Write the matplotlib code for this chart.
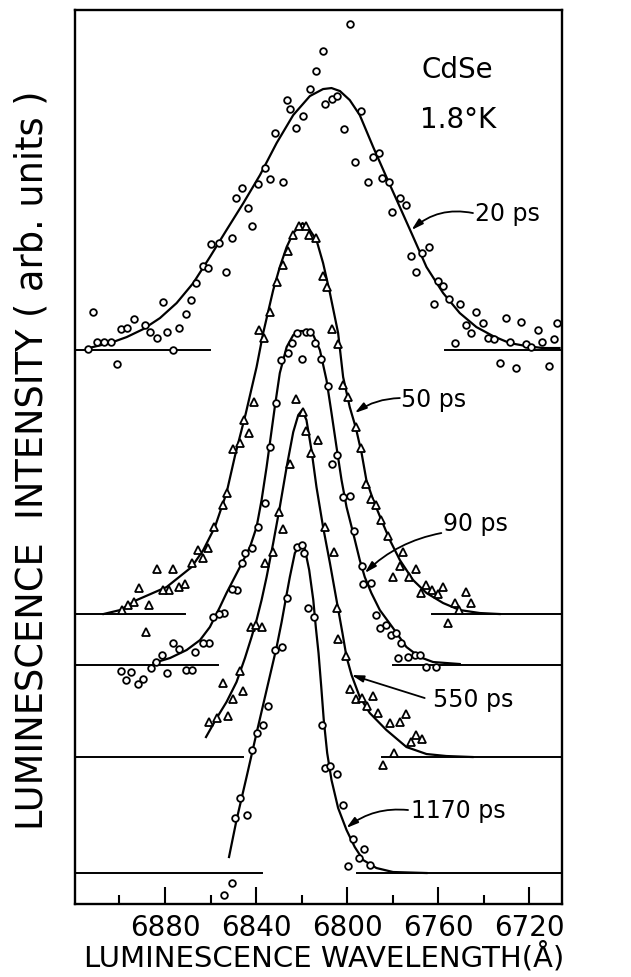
import matplotlib
matplotlib.use('Agg')
import matplotlib.pyplot as plt

# spectra: wavelength (A) and intensity (arb. units, offset stacked)
wl20 = [6913.6, 6911.4, 6909.7, 6906.8, 6903.8, 6901.2, 6899.4, 6896.5, 6893.6, 6888.8, 6886.6, 6883.4,
        6881.0, 6879.0, 6876.3, 6873.9, 6870.8, 6868.7, 6866.5, 6863.5, 6861.0, 6859.8, 6856.2, 6853.2,
        6850.5, 6848.9, 6846.4, 6843.7, 6841.6, 6839.1, 6836.1, 6833.7, 6831.8, 6828.4, 6826.6, 6825.2,
        6822.5, 6819.6, 6816.4, 6813.8, 6810.6, 6809.8, 6806.9, 6804.3, 6801.5, 6798.9, 6796.7, 6794.0,
        6791.1, 6788.9, 6786.1, 6784.7, 6781.6, 6780.3, 6776.9, 6774.3, 6772.1, 6769.6, 6767.0, 6764.2,
        6762.0, 6760.1, 6757.9, 6755.3, 6752.8, 6750.6, 6748.0, 6745.5, 6743.3, 6740.4, 6738.2, 6735.6,
        6732.8, 6730.4, 6728.7, 6725.8, 6723.6, 6721.4, 6719.2, 6716.3, 6714.5, 6711.6, 6709.2, 6707.8]
y20 = [555, 592, 562, 562, 562, 540, 575, 576, 585, 579, 572, 566, 602, 572, 554, 576, 590, 604, 621, 638,
       636, 660, 661, 632, 666, 706, 716, 696, 678, 720, 736, 725, 771, 722, 804, 795, 776, 788, 815, 833,
       853, 800, 805, 808, 775, 880, 742, 793, 722, 747, 751, 726, 722, 692, 706, 699, 648, 632, 651, 657,
       600, 623, 618, 605, 561, 600, 579, 571, 592, 581, 566, 565, 541, 586, 562, 536, 582, 560, 557, 574,
       562, 538, 565, 581]

wl50 = [6838.6, 6836.6, 6833.9, 6830.7, 6828.4, 6826.2, 6823.7, 6821.1, 6818.2, 6816.7, 6813.8, 6810.6,
        6809.1, 6806.5, 6804.0, 6840.8, 6845.2, 6843.2, 6847.1, 6850.3, 6853.0, 6854.7, 6858.4, 6861.0,
        6865.7, 6863.5, 6868.3, 6871.2, 6873.9, 6876.3, 6883.7, 6878.1, 6880.7, 6891.4, 6886.9, 6893.6,
        6896.4, 6898.7, 6888.3, 6801.8, 6799.6, 6796.2, 6794.0, 6791.8, 6789.7, 6787.2, 6785.0, 6782.0,
        6779.9, 6775.5, 6776.9, 6772.8, 6769.9, 6767.7, 6765.2, 6762.8, 6760.1, 6757.9, 6752.5, 6751.1,
        6748.0, 6745.8, 6755.7]
y50 = [574, 566, 592, 622, 639, 653, 669, 678, 678, 669, 666, 628, 617, 575, 560, 502, 484, 471, 461, 455,
       411, 399, 377, 356, 354, 346, 341, 320, 317, 335, 335, 314, 314, 316, 299, 302, 299, 294, 272, 519,
       507, 477, 456, 420, 405, 399, 384, 368, 327, 352, 338, 327, 335, 311, 319, 314, 310, 317, 301, 294,
       312, 301, 281]

wl90 = [6829.1, 6826.2, 6824.2, 6822.0, 6819.8, 6817.9, 6816.4, 6814.2, 6811.3, 6831.3, 6833.9, 6836.1,
        6839.1, 6841.6, 6844.9, 6846.4, 6848.6, 6850.8, 6854.0, 6856.2, 6808.4, 6804.7, 6806.9, 6801.8,
        6798.9, 6797.0, 6793.7, 6793.0, 6789.7, 6858.8, 6860.6, 6863.5, 6866.8, 6873.9, 6876.3, 6881.5,
        6884.1, 6886.3, 6889.5, 6891.7, 6894.9, 6897.3, 6899.4, 6879.0, 6870.8, 6868.3, 6787.5, 6785.7,
        6782.8, 6780.6, 6778.4, 6776.2, 6777.7, 6773.3, 6770.4, 6768.2, 6765.5, 6760.9]
y90 = [544, 551, 561, 571, 545, 572, 572, 561, 545, 501, 457, 401, 377, 356, 351, 341, 314, 315, 291, 290,
       518, 449, 440, 407, 408, 373, 338, 320, 321, 287, 261, 261, 252, 255, 261, 249, 242, 236, 225, 220,
       232, 224, 233, 231, 234, 234, 289, 276, 279, 269, 271, 261, 246, 247, 249, 249, 237, 237]

wl550 = [6822.5, 6819.6, 6817.9, 6812.8, 6815.7, 6825.2, 6829.9, 6828.1, 6809.8, 6832.8, 6836.1, 6805.9,
         6804.7, 6800.6, 6842.3, 6840.1, 6837.6, 6847.1, 6854.7, 6850.0, 6845.6, 6852.2, 6857.3, 6860.6,
         6804.0, 6798.6, 6796.2, 6793.7, 6791.3, 6788.9, 6786.4, 6781.3, 6776.9, 6774.0, 6771.8, 6769.6,
         6767.1, 6779.4, 6784.2]
y550 = [505, 492, 473, 464, 451, 440, 392, 375, 377, 352, 341, 352, 296, 248, 277, 279, 277, 233, 221, 205,
        213, 188, 186, 182, 265, 215, 205, 206, 198, 208, 191, 181, 182, 190, 162, 169, 165, 151, 139]

wl1170 = [6822.0, 6819.9, 6819.0, 6826.6, 6817.4, 6814.5, 6831.8, 6828.8, 6834.7, 6836.9, 6839.8, 6842.0,
          6847.1, 6844.2, 6849.3, 6850.8, 6854.0, 6811.0, 6809.8, 6807.6, 6804.7, 6801.8, 6797.4, 6792.7,
          6794.8, 6789.8, 6799.6]
y1170 = [357, 359, 351, 306, 296, 287, 254, 257, 198, 179, 171, 154, 106, 89, 86, 21, 9, 179, 136, 138,
         130, 99, 65, 55, 46, 39, 38]

# fitted curves
c20_wl = [6913.6, 6904.1, 6896.8, 6889.5, 6882.2, 6874.9, 6867.6, 6860.3, 6853.0, 6845.6, 6838.3, 6831.0,
          6823.7, 6816.4, 6810.6, 6806.9, 6803.2, 6798.9, 6794.5, 6788.6, 6782.8, 6776.9, 6771.8, 6765.2,
          6757.9, 6750.6, 6743.3, 6736.0, 6728.7, 6721.4, 6714.1, 6706.8]
c20_y = [556, 561, 567, 575, 586, 601, 621, 647, 674, 701, 729, 761, 789, 808, 815, 816, 813, 804, 789, 757,
         727, 697, 671, 637, 611, 591, 577, 568, 561, 558, 556, 556]

c50_wl = [6907.0, 6899.7, 6892.4, 6879.3, 6868.3, 6863.2, 6858.1, 6853.0, 6849.3, 6844.6, 6839.8, 6836.9,
          6832.5, 6829.6, 6826.6, 6823.7, 6819.6, 6816.4, 6813.5, 6810.6, 6807.6, 6804.0, 6801.8, 6798.9,
          6796.2, 6793.7, 6791.6, 6788.6, 6785.0, 6781.3, 6776.9, 6771.1, 6765.2, 6757.9, 6750.6, 6741.8,
          6733.1]
c50_y = [290, 294, 304, 317, 337, 354, 377, 411, 448, 490, 537, 571, 614, 637, 657, 671, 681, 674, 664, 641,
         611, 571, 527, 497, 476, 451, 424, 404, 384, 364, 344, 324, 311, 301, 294, 291, 290]

c90_wl = [6885.1, 6877.8, 6870.5, 6864.6, 6860.3, 6855.9, 6853.0, 6847.1, 6842.7, 6839.8, 6837.6, 6835.4,
          6831.8, 6829.6, 6826.6, 6823.7, 6820.8, 6817.9, 6814.9, 6812.0, 6809.1, 6806.9, 6804.7, 6802.5,
          6800.3, 6797.4, 6794.5, 6792.3, 6789.4, 6785.7, 6779.9, 6774.0, 6768.2, 6762.3, 6756.5, 6750.6]
c90_y = [241, 246, 254, 264, 277, 297, 311, 337, 357, 377, 404, 437, 497, 531, 557, 569, 573, 573, 569, 554,
         524, 491, 457, 424, 397, 371, 344, 327, 311, 294, 276, 257, 247, 242, 241, 240]

c550_wl = [6862.0, 6857.3, 6853.0, 6848.6, 6844.9, 6842.0, 6839.8, 6837.6, 6835.4, 6832.5, 6829.6, 6826.6,
           6823.7, 6821.5, 6819.8, 6817.9, 6815.7, 6813.5, 6810.6, 6807.6, 6804.7, 6802.1, 6800.3, 6798.1,
           6794.5, 6790.1, 6782.8, 6774.0, 6765.2, 6756.5, 6745.0]
c550_y = [167, 186, 202, 222, 246, 267, 284, 304, 327, 361, 397, 437, 472, 489, 494, 484, 454, 417, 377, 341,
          304, 271, 247, 229, 207, 191, 174, 157, 150, 148, 147]

c1170_wl = [6851.9, 6848.6, 6844.2, 6839.8, 6835.4, 6831.0, 6828.8, 6826.9, 6825.2, 6823.0, 6820.8, 6818.6,
            6816.7, 6814.9, 6813.8, 6812.6, 6811.4, 6810.3, 6808.8, 6806.9, 6804.0, 6800.3, 6796.7, 6793.0,
            6787.2, 6779.9, 6765.2]
c1170_y = [47, 84, 127, 171, 214, 257, 282, 306, 327, 351, 359, 355, 334, 304, 277, 251, 217, 184, 151, 124,
           96, 74, 57, 44, 36, 32, 31]

# zero lines of each trace
base_y = [554, 290, 239, 147, 31]
base_left_end = [6860.3, 6871.2, 6856.8, 6845.8, 6837.5]
base_right_start = [6757.2, 6762.9, 6780.0, 6784.8, 6795.8]

# delay labels: text, text position, arrow tail, arrow tip, curvature
labels = ['20 ps', '50 ps', '90 ps', '550 ps', '1170 ps']
label_pos = [(6744.0, 683), (6776.2, 497), (6757.9, 373), (6762.3, 197), (6771.8, 86)]
arrow_tail = [(6744.8, 691), (6776.9, 506), (6758.7, 371), (6766.0, 206), (6773.3, 94)]
arrow_tip = [(6771.8, 674), (6796.7, 491), (6792.3, 331), (6798.1, 229), (6800.4, 76)]
arrow_rad = [0.25, 0.15, 0.15, 0.0, 0.2]

major_ticks = [6880, 6840, 6800, 6760, 6720]
minor_ticks = [6900, 6860, 6820, 6780, 6740]

plt.rcParams['font.family'] = ['DejaVu Sans']

fig = plt.figure(figsize=(6.31, 9.77), dpi=100)
ax = fig.add_axes([0.1189, 0.0747, 0.7718, 0.9150])
xmin, xmax = 6919.5, 6705.7
ax.set_xlim(xmin, xmax)
ax.set_ylim(0, 894)

for y0, le, rs in zip(base_y, base_left_end, base_right_start):
    ax.plot([xmin, le], [y0, y0], color='k', lw=1.4)
    ax.plot([rs, xmax], [y0, y0], color='k', lw=1.4)

for cw, cy in [(c20_wl, c20_y), (c50_wl, c50_y), (c90_wl, c90_y), (c550_wl, c550_y), (c1170_wl, c1170_y)]:
    ax.plot(cw, cy, color='k', lw=1.6, zorder=2)

circ = dict(marker='o', ls='none', ms=4.8, mfc='white', mec='k', mew=1.3, zorder=3)
tri = dict(marker='^', ls='none', ms=5.8, mfc='white', mec='k', mew=1.3, zorder=3)
ax.plot(wl20, y20, **circ)
ax.plot(wl50, y50, **tri)
ax.plot(wl90, y90, **circ)
ax.plot(wl550, y550, **tri)
ax.plot(wl1170, y1170, **circ)

for lab, pos, tail, tip, rad in zip(labels, label_pos, arrow_tail, arrow_tip, arrow_rad):
    ax.text(pos[0], pos[1], lab, fontsize=17, ha='left', va='baseline')
    ax.annotate('', xy=tip, xytext=tail,
                arrowprops=dict(arrowstyle='-|>,head_length=0.7,head_width=0.2', color='k', lw=1.3,
                                shrinkA=0, shrinkB=0, connectionstyle='arc3,rad=%s' % rad))

ax.text(6751.5, 826, 'CdSe', fontsize=20, ha='center', va='baseline')
ax.text(6751.5, 776, '1.8°K', fontsize=20, ha='center', va='baseline')

ax.set_xticks(major_ticks)
ax.set_xticks(minor_ticks, minor=True)
ax.set_yticks([])
ax.tick_params(axis='x', which='major', direction='in', length=12, width=1.5, labelsize=20, pad=7)
ax.tick_params(axis='x', which='minor', direction='in', length=6.5, width=1.5)
for s in ax.spines.values():
    s.set_linewidth(1.7)

fig.text(32 / 631, 1 - 460 / 977, 'LUMINESCENCE  INTENSITY ( arb. units )', rotation=90,
         fontsize=26.5, ha='center', va='center')
fig.text(324 / 631, 1 - 957 / 977, 'LUMINESCENCE WAVELENGTH(Å)', fontsize=21, ha='center', va='center')

fig.savefig('out.png', dpi=100)
